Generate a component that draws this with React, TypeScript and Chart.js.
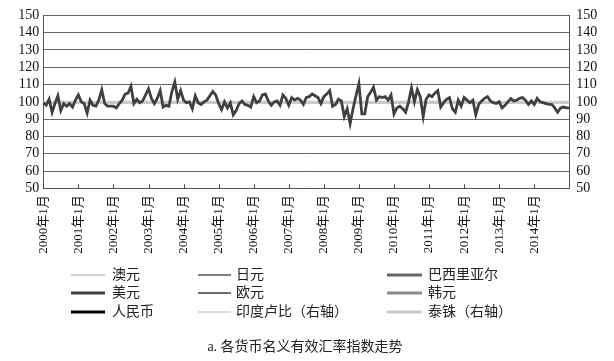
import React, { useEffect, useRef } from "react";
import { Chart, registerables } from "chart.js";

Chart.register(...registerables);

// Categories: monthly, 2000年1月 .. 2015年1月
const months: string[] = [];
for (let y = 2000; y <= 2015; y++) {
  for (let m = 1; m <= 12; m++) {
    if (months.length < 181) months.push(`${y}年${m}月`);
  }
}

const caption = "a. 各货币名义有效汇率指数走势";

// 美元 (dark, volatile line)
const usd = [
  99.5, 98, 101.5, 94, 99, 103.5, 95, 99, 97.5, 99,
  97, 101, 104, 100, 99, 93.5, 101, 98, 97.5, 101,
  107, 99, 97.5, 97.5, 97.5, 96.5, 99, 101, 104.5, 105,
  109, 99, 101.5, 99.5, 100.5, 104, 107.5, 102, 99, 102,
  106.5, 97, 98, 97.5, 106, 111.5, 101.5, 106.5, 101, 99.5,
  100, 96, 103.5, 99.5, 98.5, 100, 101, 103.5, 106, 104,
  99, 95.5, 100, 96.5, 99.5, 92.5, 95, 99, 100.5, 98.5,
  98, 97, 103, 99.5, 100.5, 104, 104.5, 100.5, 98, 100,
  100.5, 98, 104, 102, 98, 102.5, 101, 102, 101, 98.5,
  102.5, 103, 104.5, 103.5, 102.5, 99, 103, 104.5, 106.5, 97.5,
  98.5, 101.5, 100.5, 91.5, 96, 87.5, 96, 103.5, 110.5, 93,
  93, 103, 105.5, 108.5, 101, 103, 102.5, 103, 101, 104,
  93, 96.5, 97.5, 96, 94, 100, 108, 100, 107, 103,
  91.5, 101.5, 104, 103, 105, 106.5, 97, 99.5, 101.5, 102.5,
  96, 94, 101, 97.5, 102.5, 101, 99.5, 101, 92.5, 98.5,
  100.5, 102, 103, 100.5, 99.5, 99, 100, 96.5, 98, 100,
  102, 100.5, 101, 102, 102.5, 101, 98.5, 100.5, 98.5, 102,
  100, 99.5, 99, 98.5, 98.5, 96.5, 94, 96.5, 97, 96.5,
  96.5,
];

// 泰铢（右轴） (light, flat line)
const thb = [
  99.7, 99.7, 99.7, 99.7, 99.7, 99.7, 99.7, 99.7, 99.7, 99.7,
  99.7, 99.7, 99.7, 99.7, 99.7, 99.7, 99.7, 99.7, 99.7, 99.7,
  99.7, 99.7, 99.7, 99.7, 99.7, 99.7, 99.7, 99.7, 99.7, 99.7,
  99.7, 99.7, 99.7, 99.7, 99.7, 99.7, 99.7, 99.7, 99.7, 99.7,
  99.7, 99.7, 99.7, 99.7, 99.7, 99.7, 99.7, 99.7, 99.7, 99.7,
  99.7, 99.7, 99.7, 99.7, 99.7, 99.7, 99.7, 99.7, 99.7, 99.7,
  99.7, 99.7, 99.7, 99.7, 99.7, 99.7, 99.7, 99.7, 99.7, 99.7,
  99.7, 99.7, 99.7, 99.7, 99.7, 99.7, 99.7, 99.7, 99.7, 99.7,
  99.7, 99.7, 99.7, 99.7, 99.7, 99.7, 99.7, 99.7, 99.7, 99.7,
  99.7, 99.7, 99.7, 99.7, 99.7, 99.7, 99.7, 99.7, 99.7, 99.7,
  99.7, 99.7, 99.7, 99.7, 99.7, 99.7, 99.7, 99.7, 99.7, 99.7,
  99.7, 99.7, 99.7, 99.7, 99.7, 99.7, 99.7, 99.7, 99.7, 99.7,
  99.7, 99.7, 99.7, 99.7, 99.7, 99.7, 99.7, 99.7, 99.7, 99.7,
  99.7, 99.7, 99.7, 99.7, 99.7, 99.7, 99.7, 99.7, 99.7, 99.7,
  99.7, 99.7, 99.7, 99.7, 99.7, 99.7, 99.7, 99.7, 99.7, 99.7,
  99.7, 99.7, 99.7, 99.7, 99.7, 99.7, 99.7, 99.7, 99.7, 99.7,
  99.7, 99.7, 99.7, 99.7, 99.7, 99.7, 99.7, 99.7, 99.7, 99.7,
  99.7, 99.7, 99.7, 99.7, 99.7, 99.7, 99.7, 99.7, 99.7, 99.7,
  99.7,
];

// Series not visible in the reference picture (legend only)
const aud: number[] = [];
const cny: number[] = [];
const jpy: number[] = [];
const eur: number[] = [];
const inr: number[] = [];
const brl: number[] = [];
const krw: number[] = [];

const FONT_FAMILY = '"Liberation Serif", "Noto Sans CJK SC", serif';

const xTickPlugin = {
  id: "innerXTicks",
  afterDraw(chart: any) {
    const { ctx, chartArea, scales } = chart;
    const xs = scales.x;
    ctx.save();
    ctx.strokeStyle = "#444";
    ctx.lineWidth = 1;
    for (let i = 0; i < months.length - 1; i += 12) {
      const x = Math.round(xs.getPixelForValue(i)) + 0.5;
      ctx.beginPath();
      ctx.moveTo(x, chartArea.bottom);
      ctx.lineTo(x, chartArea.bottom - 4);
      ctx.stroke();
    }
    ctx.restore();
  },
};

const legendPlugin = {
  id: "gridLegend",
  afterDraw(chart: any) {
    const ctx = chart.ctx;
    const cols = [
      { x0: 71, x1: 105, tx: 112 },
      { x0: 198, x1: 231, tx: 236 },
      { x0: 387, x1: 422, tx: 428 },
    ];
    const rows = [275, 293, 312];
    ctx.save();
    chart.data.datasets.forEach((ds: any, i: number) => {
      const c = cols[Math.floor(i / 3)];
      const y = rows[i % 3];
      ctx.strokeStyle = ds.borderColor;
      ctx.lineWidth = ds.borderWidth;
      ctx.beginPath();
      ctx.moveTo(c.x0, y);
      ctx.lineTo(c.x1, y);
      ctx.stroke();
      ctx.fillStyle = "#222";
      ctx.font = `14px ${FONT_FAMILY}`;
      ctx.textAlign = "left";
      ctx.textBaseline = "middle";
      ctx.fillText(ds.label, c.tx, y + 0.5);
    });
    ctx.fillStyle = "#222";
    ctx.font = `14px ${FONT_FAMILY}`;
    ctx.textAlign = "center";
    ctx.textBaseline = "middle";
    ctx.fillText(caption, 305, 347);
    ctx.restore();
  },
};

export default function App() {
  const ref = useRef<HTMLCanvasElement | null>(null);

  useEffect(() => {
    if (!ref.current) return;
    const xFont = { family: FONT_FAMILY, size: 13 };
    const yFont = { family: FONT_FAMILY, size: 14 };
    const chart = new Chart(ref.current, {
      type: "line",
      data: {
        labels: months,
        datasets: [
          { label: "澳元", data: aud, borderColor: "#a8a8a8", borderWidth: 1.2, yAxisID: "y" },
          { label: "美元", data: usd, borderColor: "#404040", borderWidth: 2.8, yAxisID: "y" },
          { label: "人民币", data: cny, borderColor: "#000000", borderWidth: 3, yAxisID: "y" },
          { label: "日元", data: jpy, borderColor: "#555555", borderWidth: 1.5, yAxisID: "y" },
          { label: "欧元", data: eur, borderColor: "#6e6e6e", borderWidth: 2, yAxisID: "y" },
          { label: "印度卢比（右轴）", data: inr, borderColor: "#b4b4b4", borderWidth: 1, yAxisID: "y1" },
          { label: "巴西里亚尔", data: brl, borderColor: "#666666", borderWidth: 3, yAxisID: "y" },
          { label: "韩元", data: krw, borderColor: "#8a8a8a", borderWidth: 3, yAxisID: "y" },
          { label: "泰铢（右轴）", data: thb, borderColor: "#cacaca", borderWidth: 3.2, yAxisID: "y1" },
        ],
      },
      options: {
        responsive: false,
        animation: false,
        layout: { padding: { left: 0, right: 0, top: 14, bottom: 100 } },
        elements: { point: { radius: 0 }, line: { tension: 0 } },
        plugins: { legend: { display: false }, tooltip: { enabled: false } },
        scales: {
          x: {
            type: "category",
            grid: { display: false, drawTicks: false },
            border: { display: true, color: "#555", width: 1 },
            ticks: {
              autoSkip: false,
              minRotation: 90,
              maxRotation: 90,
              padding: 7,
              color: "#111",
              font: xFont,
              callback: function (this: any, v: any, i: number) {
                return i % 12 === 0 && i < months.length - 1 ? this.getLabelForValue(v) : null;
              },
            },
            afterFit: (s: any) => {
              s.height = 72.7;
            },
          },
          y: {
            position: "left",
            min: 50,
            max: 150,
            ticks: { stepSize: 10, autoSkip: false, padding: 4, color: "#111", font: yFont },
            grid: { color: "#666", drawTicks: false, lineWidth: 1 },
            border: { color: "#555", width: 1 },
            afterFit: (s: any) => {
              s.width = 43.3;
            },
          },
          y1: {
            position: "right",
            min: 50,
            max: 150,
            ticks: { stepSize: 10, autoSkip: false, padding: 7, color: "#111", font: yFont },
            grid: { drawOnChartArea: false, drawTicks: false },
            border: { color: "#555", width: 1 },
            afterFit: (s: any) => {
              s.width = 44.7;
            },
          },
        },
      },
      plugins: [xTickPlugin, legendPlugin],
    } as any);
    return () => chart.destroy();
  }, []);

  return (
    <div style={{ position: "fixed", left: 0, top: 0, width: 614, height: 361, background: "#fff" }}>
      <canvas ref={ref} width={614} height={361} style={{ display: "block", width: 614, height: 361 }} />
    </div>
  );
}
